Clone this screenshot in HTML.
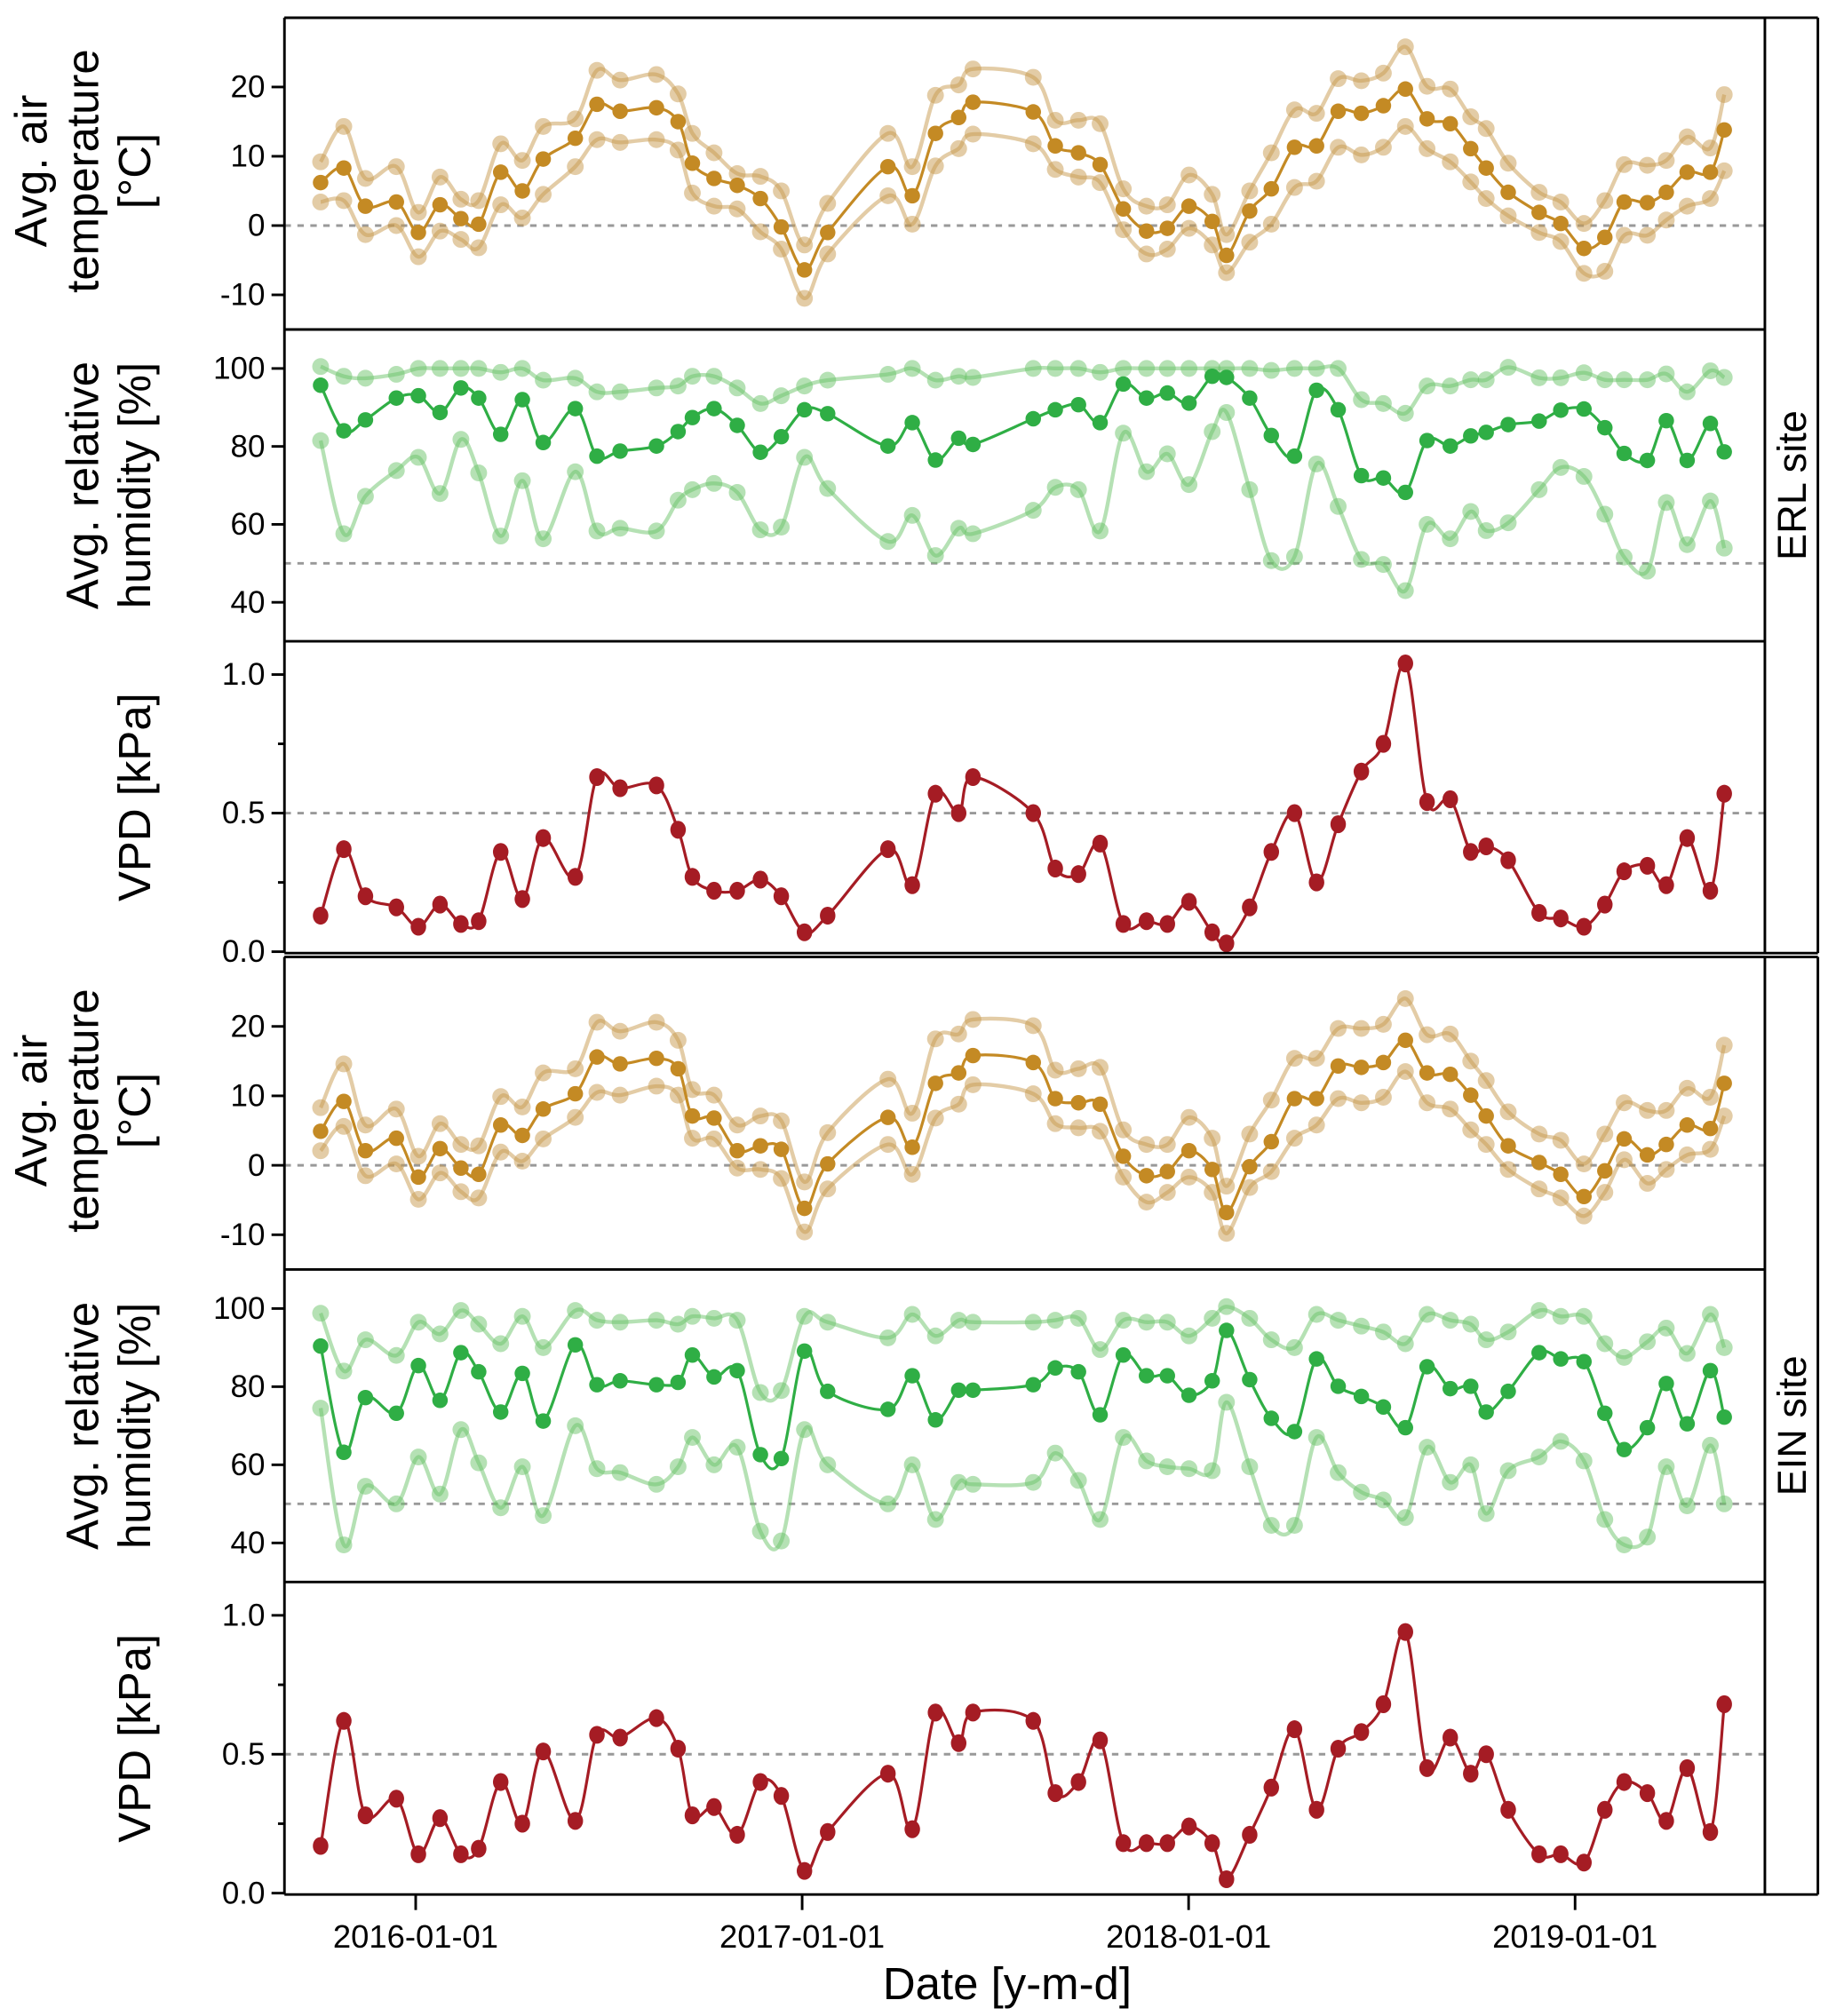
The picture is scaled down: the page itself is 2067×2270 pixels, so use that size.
<!DOCTYPE html>
<html><head><meta charset="utf-8"><style>
html,body{margin:0;padding:0;background:#fff}
svg{display:block}
text{font-family:"Liberation Sans",Arial,sans-serif;fill:#000}
</style></head><body>
<svg id="chart" width="2067" height="2270" viewBox="0 0 1420 1560" preserveAspectRatio="none" xmlns="http://www.w3.org/2000/svg"></svg>
<script>
const dates=[2015.754,2015.814,2015.870,2015.950,2016.007,2016.063,2016.117,2016.163,2016.220,2016.276,2016.330,2016.413,2016.469,2016.529,2016.623,2016.679,2016.716,2016.772,2016.832,2016.892,2016.946,2017.006,2017.066,2017.222,2017.285,2017.345,2017.405,2017.442,2017.598,2017.655,2017.715,2017.771,2017.831,2017.891,2017.945,2018.001,2018.061,2018.098,2018.158,2018.214,2018.274,2018.331,2018.387,2018.447,2018.504,2018.561,2018.617,2018.677,2018.730,2018.770,2018.827,2018.907,2018.963,2019.023,2019.077,2019.127,2019.187,2019.236,2019.290,2019.350,2019.386];
const erlTempMean=[6.2,8.3,2.8,3.4,-1,3,1,0.2,7.7,5,9.6,12.6,17.5,16.5,17,15,9,6.8,5.8,3.9,-0.2,-6.4,-1,8.5,4.3,13.3,15.6,17.8,16.4,11.5,10.5,8.8,2.4,-0.8,-0.4,2.8,0.6,-4.3,2.1,5.3,11.3,11.5,16.5,16.2,17.3,19.7,15.4,14.7,11.1,8.3,4.8,1.9,0.3,-3.3,-1.7,3.4,3.3,4.8,7.7,7.7,13.8];
const erlTempHi=[9.2,14.3,6.8,8.5,1.9,7,3.8,3.6,11.8,9.4,14.3,15.4,22.4,21,21.8,19,13.3,10.5,7.5,7.1,5,-2.8,3.2,13.3,8.5,18.8,20.3,22.6,21.4,15.2,15.2,14.7,5.3,2.8,3,7.3,4.5,-1.3,5,10.5,16.7,16.2,21.2,20.9,22,25.8,20.1,19.7,15.7,14,9,4.8,3.4,0.3,3.6,8.8,8.7,9.4,12.8,11.2,18.9];
const erlTempLo=[3.4,3.6,-1.3,0,-4.5,-0.8,-2,-3.2,3,1.1,4.5,8.5,12.4,12,12.4,10.9,4.7,2.8,2.4,-0.9,-3.4,-10.5,-4.1,4.3,0.2,8.6,11.1,13.2,11.8,8.1,7,6.2,-0.6,-4.1,-3.4,-0.4,-2.8,-6.8,-2.4,0.2,5.5,6.4,11.3,10.2,11.3,14.3,11.1,9.2,6.3,3.9,1.4,-1,-2.3,-6.9,-6.6,-1.4,-1.4,0.8,2.8,3.9,7.9];
const erlRhMean=[95.7,84,86.8,92.4,93,88.7,95,92.4,83.1,92,81,89.7,77.5,78.8,80.1,83.8,87.4,89.7,85.4,78.5,82.5,89.4,88.4,80.1,86.1,76.5,82.1,80.5,87.1,89.4,90.7,86.1,96,92.4,93.7,91.1,98,97.7,92.4,82.8,77.5,94.4,89.4,72.5,71.9,68.2,81.5,80.1,82.7,83.6,85.6,86.5,89.3,89.6,84.8,78.2,76.4,86.6,76.4,85.9,78.6];
const erlRhHi=[100.5,98,97.5,98.5,100,100,100,100,99,100,97,97.5,94,94,95,95.5,98,98,95,91,93,95.5,97,98.5,100,97,98,97.7,100,100,100,99,100,100,100,100,100,100,100,99.5,100,100,100,92,91,88.5,95.5,95.5,97.1,97.1,100.3,97.6,97.6,98.9,97.1,97.1,97.1,98.6,94,99.4,97.7];
const erlRhLo=[81.5,57.6,67.2,73.8,77.2,67.9,81.8,73.2,57,71.2,56.3,73.5,58.3,59,58.3,66.2,68.9,70.5,68.2,58.6,59.3,77.2,69.2,55.6,62.3,52,59,57.6,63.6,69.5,68.9,58.3,83.4,73.5,78.1,70.2,83.8,88.7,68.9,50.7,51.7,75.5,64.6,51,49.7,43,60,56.3,63.3,58.4,60.4,68.9,74.6,72.3,62.6,51.6,48,65.6,54.8,66,53.9];
const erlVpd=[0.13,0.37,0.2,0.16,0.09,0.17,0.1,0.11,0.36,0.19,0.41,0.27,0.63,0.59,0.6,0.44,0.27,0.22,0.22,0.26,0.2,0.07,0.13,0.37,0.24,0.57,0.5,0.63,0.5,0.3,0.28,0.39,0.1,0.11,0.1,0.18,0.07,0.03,0.16,0.36,0.5,0.25,0.46,0.65,0.75,1.04,0.54,0.55,0.36,0.38,0.33,0.14,0.12,0.09,0.17,0.29,0.31,0.24,0.41,0.22,0.57];
const einTempMean=[4.9,9.2,2.1,3.9,-1.7,2.4,-0.4,-1.3,5.8,4.3,8.1,10.3,15.6,14.6,15.4,13.9,7.1,6.8,2.1,2.8,2.3,-6.2,0.2,6.9,2.6,11.8,13.3,15.8,14.8,9.6,9,8.8,1.3,-1.5,-0.9,2.1,-0.6,-6.8,-0.2,3.4,9.6,9.6,14.3,14.1,14.8,18,13.3,13.1,10.1,7.1,2.8,0.4,-1.3,-4.5,-0.8,3.8,1.5,3,5.8,5.3,11.8];
const einTempHi=[8.3,14.6,5.8,8.1,1.3,6,3,2.8,9.9,8.4,13.3,13.9,20.6,19.3,20.6,18,10.9,10.1,5.8,7.1,6.4,-2.4,4.7,12.4,7.5,18.2,18.9,21,20.1,13.7,13.9,14.1,5.1,3,3,6.9,3.9,-3,4.5,9.4,15.4,15.4,19.7,19.7,20.3,24,18.8,18.9,15,12.2,7.7,4.5,3.6,0.2,4.5,9,7.9,7.9,11.1,9.8,17.3];
const einTempLo=[2.1,5.6,-1.5,0.2,-4.9,-1.1,-3.8,-4.7,1.9,0.6,3.8,6.9,10.5,10.1,11.4,10.1,3.9,3.8,-0.4,-0.6,-1.9,-9.6,-3.4,3,-1.3,6.8,8.8,11.6,10.3,6,5.4,4.9,-1.7,-5.3,-3.9,-1.7,-3.9,-9.8,-3.2,-0.9,3.9,5.8,9.6,9,9.8,13.5,9,8.1,5.1,3,-0.6,-3.4,-4.7,-7.3,-3.9,0.8,-2.6,-0.6,1.5,2.3,7.1];
const einRhMean=[90.4,63.2,77.2,73.2,85.4,76.5,88.7,83.8,73.5,83.4,71.2,90.7,80.5,81.5,80.5,81.1,88.1,82.5,84.1,62.6,61.6,89.1,78.8,74.2,82.8,71.5,79.1,79.1,80.5,84.8,83.8,72.8,88.1,82.8,82.8,77.8,81.5,94.4,81.8,71.9,68.5,87.1,80.1,77.5,74.8,69.5,85.1,79.5,80.1,73.5,78.8,88.7,87.1,86.4,73.2,63.9,69.5,80.8,70.5,84.1,72.2];
const einRhHi=[98.8,84,92,88,96.5,93.5,99.5,96,91,98,90,99.5,97,96.5,97,96,98,97.5,97,78.5,79,98,96.5,92.5,98.5,93,97,96.5,96.5,97,97.5,89.5,97,96.5,96.5,93,97.5,100.5,97.5,92,90,98.5,97,95.5,94,91,98.5,97,96,92,94,99.5,98,98,91,87.5,91.5,95,88.5,98.5,90];
const einRhLo=[74.5,39.5,54.5,50,62,52.5,69,60.5,49,59.5,47,70,59,58,55,59.5,67,60,64.5,43,40.5,69,60,50,60,46,55.5,55,55.5,63,56,46,67,61,59.5,59,58.5,76,59.5,44.5,44.5,67,58,53,51,46.5,64.5,55.5,60,47.5,58.5,62,66,61,46,39.5,41.5,59.5,49.5,65,50];
const einVpd=[0.17,0.62,0.28,0.34,0.14,0.27,0.14,0.16,0.4,0.25,0.51,0.26,0.57,0.56,0.63,0.52,0.28,0.31,0.21,0.4,0.35,0.08,0.22,0.43,0.23,0.65,0.54,0.65,0.62,0.36,0.4,0.55,0.18,0.18,0.18,0.24,0.18,0.05,0.21,0.38,0.59,0.3,0.52,0.58,0.68,0.94,0.45,0.56,0.43,0.5,0.3,0.14,0.14,0.11,0.3,0.4,0.36,0.26,0.45,0.22,0.68];
const xTickYears=[2016,2017,2018,2019];
const xTickLabels=["2016-01-01","2017-01-01","2018-01-01","2019-01-01"];
const tempTicks=[-10,0,10,20];
const rhTicks=[40,60,80,100];
const vpdTicks=[0,0.5,1.0];
const vpdTickLabels=["0.0","0.5","1.0"];

const NS="http://www.w3.org/2000/svg";
const svg=document.getElementById('chart');
const L=220,R=1365,SR=1406;
function el(tag,attrs,parent){const e=document.createElementNS(NS,tag);for(const k in attrs)e.setAttribute(k,attrs[k]);(parent||svg).appendChild(e);return e;}
function xS(d){return 321.5+(d-2016)*298.9;}
function yScale(top,bot,min,max){return v=>bot-(v-min)/(max-min)*(bot-top);}
function smoothPath(pts){
  let d='M'+pts[0][0].toFixed(1)+','+pts[0][1].toFixed(1);
  for(let i=0;i<pts.length-1;i++){
    const p0=pts[Math.max(0,i-1)],p1=pts[i],p2=pts[i+1],p3=pts[Math.min(pts.length-1,i+2)];
    const c1x=p1[0]+(p2[0]-p0[0])/6,c1y=p1[1]+(p2[1]-p0[1])/6;
    const c2x=p2[0]-(p3[0]-p1[0])/6,c2y=p2[1]-(p3[1]-p1[1])/6;
    d+=' C'+c1x.toFixed(1)+','+c1y.toFixed(1)+' '+c2x.toFixed(1)+','+c2y.toFixed(1)+' '+p2[0].toFixed(1)+','+p2[1].toFixed(1);
  }
  return d;
}
function series(g,vals,y,color,opacity,r,name,ell){
  const pts=vals.map((v,i)=>[xS(dates[i]),y(v)]);
  const p=el('path',{d:smoothPath(pts),fill:'none',stroke:color,'stroke-width':opacity<1?3:2.2,'stroke-opacity':opacity},g);
  
  
  pts.forEach((pt,i)=>{
    const c=ell?el('ellipse',{cx:pt[0],cy:pt[1],rx:r,ry:r*1.15,fill:color,'fill-opacity':opacity},g):el('circle',{cx:pt[0],cy:pt[1],r:r,fill:color,'fill-opacity':opacity},g);
    
    
  });
}
function yAxis(g,y,ticks,labels){
  ticks.forEach((t,i)=>{
    el('line',{x1:L-10,x2:L,y1:y(t),y2:y(t),stroke:'#000','stroke-width':2},g);
    const tx=el('text',{x:L-15,y:y(t)+8,'text-anchor':'end','font-size':24},g);
    tx.textContent=labels?labels[i]:String(t);
    
    
  });
}
function dash(g,y){el('line',{x1:L,x2:R,y1:y,y2:y,stroke:'#999','stroke-width':2,'stroke-dasharray':'5 5'},g);}
function ylabel(g,lines,cy,xs){
  lines.forEach((s,i)=>{
    const t=el('text',{x:0,y:0,transform:'translate('+xs[i]+','+cy+') rotate(-90)','text-anchor':'middle','font-size':35},g);
    t.textContent=s;
    
    
  });
}
function site(top,bot,name,tm,th,tl,rm,rh,rl,vp){
  const h=(bot-top)/3;
  const g=el('g',{});  
  const t0=top,t1=top+h,t2=top+2*h;
  const yT=yScale(t0,t1,-15,30), yR=yScale(t1,t2,30,110), yV=yScale(t2,bot,-0.005,1.12);
  dash(g,yT(0)); dash(g,yR(50)); dash(g,yV(0.5));
  series(g,th,yT,'#c89a4e',0.5,6.5,'temp-max');
  series(g,tl,yT,'#c89a4e',0.5,6.5,'temp-min');
  series(g,tm,yT,'#c48a24',1,6,'temp-mean');
  series(g,rh,yR,'#6cc36a',0.5,6.5,'rh-max');
  series(g,rl,yR,'#6cc36a',0.5,6.5,'rh-min');
  series(g,rm,yR,'#2fae45',1,6,'rh-mean');
  series(g,vp,yV,'#a51c24',1,6,'vpd',true);
  [t0,t1,t2].forEach(yy=>el('line',{x1:L,x2:R,y1:yy,y2:yy,stroke:'#000','stroke-width':2},g));
  el('line',{x1:L,x2:SR,y1:bot,y2:bot,stroke:'#000','stroke-width':2},g);
  el('line',{x1:L,x2:SR,y1:top,y2:top,stroke:'#000','stroke-width':2},g);
  el('line',{x1:L,x2:L,y1:top,y2:bot,stroke:'#000','stroke-width':2},g);
  el('line',{x1:R,x2:R,y1:top,y2:bot,stroke:'#000','stroke-width':2},g);
  el('line',{x1:SR,x2:SR,y1:top,y2:bot,stroke:'#000','stroke-width':2},g);
  yAxis(g,yT,tempTicks); yAxis(g,yR,rhTicks); yAxis(g,yV,vpdTicks,vpdTickLabels);
  [0.25,0.75].forEach(v=>el('line',{x1:L-5,x2:L,y1:yV(v),y2:yV(v),stroke:'#000','stroke-width':2},g));
  ylabel(g,['Avg. air','temperature','[°C]'],t0+h/2-2,[36,76,116]);
  ylabel(g,['Avg. relative','humidity [%]'],t1+h/2,[76,116]);
  ylabel(g,['VPD [kPa]'],t2+h/2,[116]);
  const s=el('text',{x:0,y:0,transform:'translate('+((R+SR)/2+11)+','+((top+bot)/2)+') rotate(-90)','text-anchor':'middle','font-size':31},g);
  s.textContent=name;
  
  
}
site(13.7,737.5,'ERL site',erlTempMean,erlTempHi,erlTempLo,erlRhMean,erlRhHi,erlRhLo,erlVpd);
site(740.5,1466,'EIN site',einTempMean,einTempHi,einTempLo,einRhMean,einRhHi,einRhLo,einVpd);
const xa=el('g',{});  
xTickYears.forEach((yr,i)=>{
  el('line',{x1:xS(yr),x2:xS(yr),y1:1466,y2:1478,stroke:'#000','stroke-width':2},xa);
  const t=el('text',{x:xS(yr),y:1507,'text-anchor':'middle','font-size':25},xa);
  t.textContent=xTickLabels[i];
  
  
});
const xt=el('text',{x:779,y:1547,'text-anchor':'middle','font-size':35},xa);
xt.textContent='Date [y-m-d]';


</script>
</body></html>
